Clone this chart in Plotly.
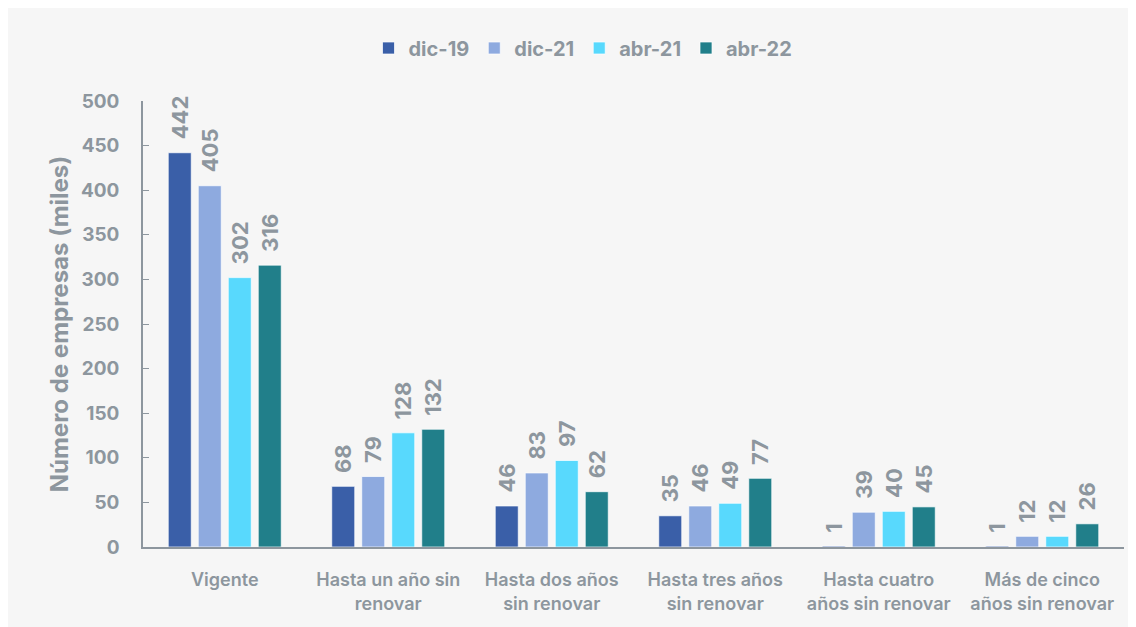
import plotly.graph_objects as go

categories = ["Vigente", "Hasta un año sin<br>renovar", "Hasta dos años<br>sin renovar",
              "Hasta tres años<br>sin renovar", "Hasta cuatro<br>años sin renovar",
              "Más de cinco<br>años sin renovar"]
series_names = ["dic-19", "dic-21", "abr-21", "abr-22"]
dic19 = [442, 68, 46, 35, 1, 1]
dic21 = [405, 79, 83, 46, 39, 12]
abr21 = [302, 128, 97, 49, 40, 12]
abr22 = [316, 132, 62, 77, 45, 26]
colors = ["#3a5fa8", "#8eaadf", "#58d9fd", "#217f8a"]
y_ticks = [0, 50, 100, 150, 200, 250, 300, 350, 400, 450, 500]

GRAY = "#8d969e"
FONT = "Inter"

W, H = 1136, 627
L, R, T, B = 135, 20, 93, 88
pw, ph = W - L - R, H - T - B

fig = go.Figure()
for name, vals, col in zip(series_names, [dic19, dic21, abr21, abr22], colors):
    fig.add_trace(go.Bar(
        x=categories, y=vals, name=name,
        marker=dict(color=col, line=dict(color="rgba(255,255,255,0.7)", width=1)),
        text=["\u00a0\u00a0" + str(v) for v in vals], textposition="outside", textangle=-90,
        constraintext="none", cliponaxis=False,
        textfont=dict(family=FONT, size=22, color=GRAY, weight="bold"),
    ))

fig.update_layout(
    width=W, height=H,
    margin=dict(l=L, r=R, t=T, b=B, autoexpand=False),
    paper_bgcolor="#f6f6f6", plot_bgcolor="rgba(0,0,0,0)",
    barmode="group", bargap=0.266, bargroupgap=0.233,
    showlegend=True,
    legend=dict(orientation="h", x=(575 - L) / pw, xanchor="center", y=(H - B - 40) / ph,
                yanchor="middle", font=dict(family=FONT, size=20, color=GRAY, weight="bold"),
                bgcolor="rgba(0,0,0,0)", traceorder="normal"),
    font=dict(family=FONT, color=GRAY),
    xaxis=dict(showline=True, linecolor=GRAY, linewidth=1.5, ticks="", automargin=False,
               ticklabelstandoff=16,
               tickfont=dict(family=FONT, size=18, color=GRAY, weight=600)),
    yaxis=dict(range=[0, 500], tickvals=y_ticks, showgrid=False, zeroline=False,
               showline=True, linecolor=GRAY, linewidth=1.5, automargin=False,
               ticks="inside", ticklen=6, tickcolor=GRAY, ticklabelstandoff=18,
               tickfont=dict(family=FONT, size=19, color=GRAY, weight="bold"),
               title=dict(text="Número de empresas (miles)", standoff=6,
                          font=dict(family=FONT, size=24, color=GRAY, weight="bold"))),
)

fig.write_html("out.html")
